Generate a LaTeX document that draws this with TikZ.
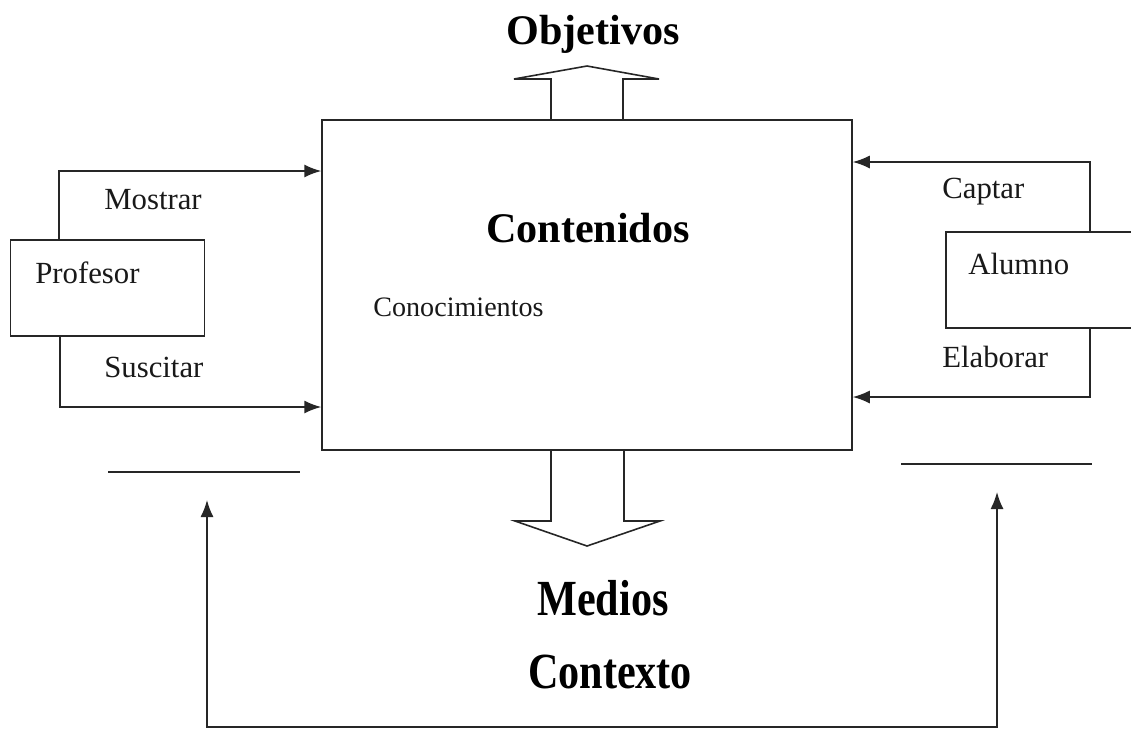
\documentclass[tikz,border=0pt]{standalone}
\usepackage{fontspec}
\setmainfont{Liberation Serif}
\usetikzlibrary{arrows.meta}

\begin{document}
\begin{tikzpicture}[
  x=0.02cm,y=-0.02cm,
  line/.style={draw=black!85,line width=0.9pt},
  arrow/.style={line,-{Latex[length=3.4mm,width=2.6mm]}},
  box/.style={line,minimum height=1.92cm,inner sep=0pt},
  label/.style={font=\fontsize{17.5}{20}\selectfont,text=black!90,inner sep=0pt},
  title/.style={font=\fontsize{24}{26}\selectfont\bfseries,text=black,inner sep=0pt},
]
\useasboundingbox[fill=white] (0,0) rectangle (1131,728);
\node[line,minimum width=10.6cm,minimum height=6.6cm] (main) at (587,285) {};
\node[box,minimum width=3.88cm] (prof) at (107.5,288) {};
\node[box,minimum width=4.2cm] (alum) at (1051,280) {};
\node[title] (obj) at (593,34) {Objetivos};
\node[title] (cont) at (588,228) {Contenidos};
\node[title,yscale=1.2] (med) at (603,598) {Medios};
\node[title,yscale=1.2] (ctx) at (610,672) {Contexto};
\node[label,anchor=west,font=\fontsize{16}{19}\selectfont] (con) at (373,307) {Conocimientos};
\node[label,anchor=west] (proft) at (35,273) {Profesor};
\node[label,anchor=west] (alumt) at (968,264) {Alumno};
\node[label,anchor=west] (most) at (104,200) {Mostrar};
\node[label,anchor=west] (susc) at (104,367) {Suscitar};
\node[label,anchor=west] (capt) at (942,192) {Captar};
\node[label,anchor=west] (elab) at (942,357) {Elaborar};
\coordinate (ml) at (59,171);
\coordinate (sl) at (60,407);
\coordinate (cr) at (1090,162);
\coordinate (er) at (1090,397);
\draw[arrow] (ml |- prof.north) -- (ml) -- (ml -| main.west);
\draw[arrow] (sl |- prof.south) -- (sl) -- (sl -| main.west);
\draw[arrow] (cr |- alum.north) -- (cr) -- (cr -| main.east);
\draw[arrow] (er |- alum.south) -- (er) -- (er -| main.east);
\draw[line] (551,0 |- main.north) -- (551,79) -- (514,79) -- (587,66) -- (659,79) -- (623,79) -- (623,0 |- main.north);
\draw[line] (551,0 |- main.south) -- (551,521) -- (515,521) -- (587,546) -- (660,521) -- (624,521) -- (624,0 |- main.south);
\draw[line] (108,472) -- (300,472);
\draw[line] (901,464) -- (1092,464);
\coordinate (ta) at (207,500);
\coordinate (tb) at (997,492);
\coordinate (bl) at (207,727);
\coordinate (br) at (997,727);
\draw[line,{Latex[length=3.4mm,width=2.6mm]}-{Latex[length=3.4mm,width=2.6mm]}] (ta) -- (bl) -- (br) -- (tb);
\end{tikzpicture}
\end{document}
